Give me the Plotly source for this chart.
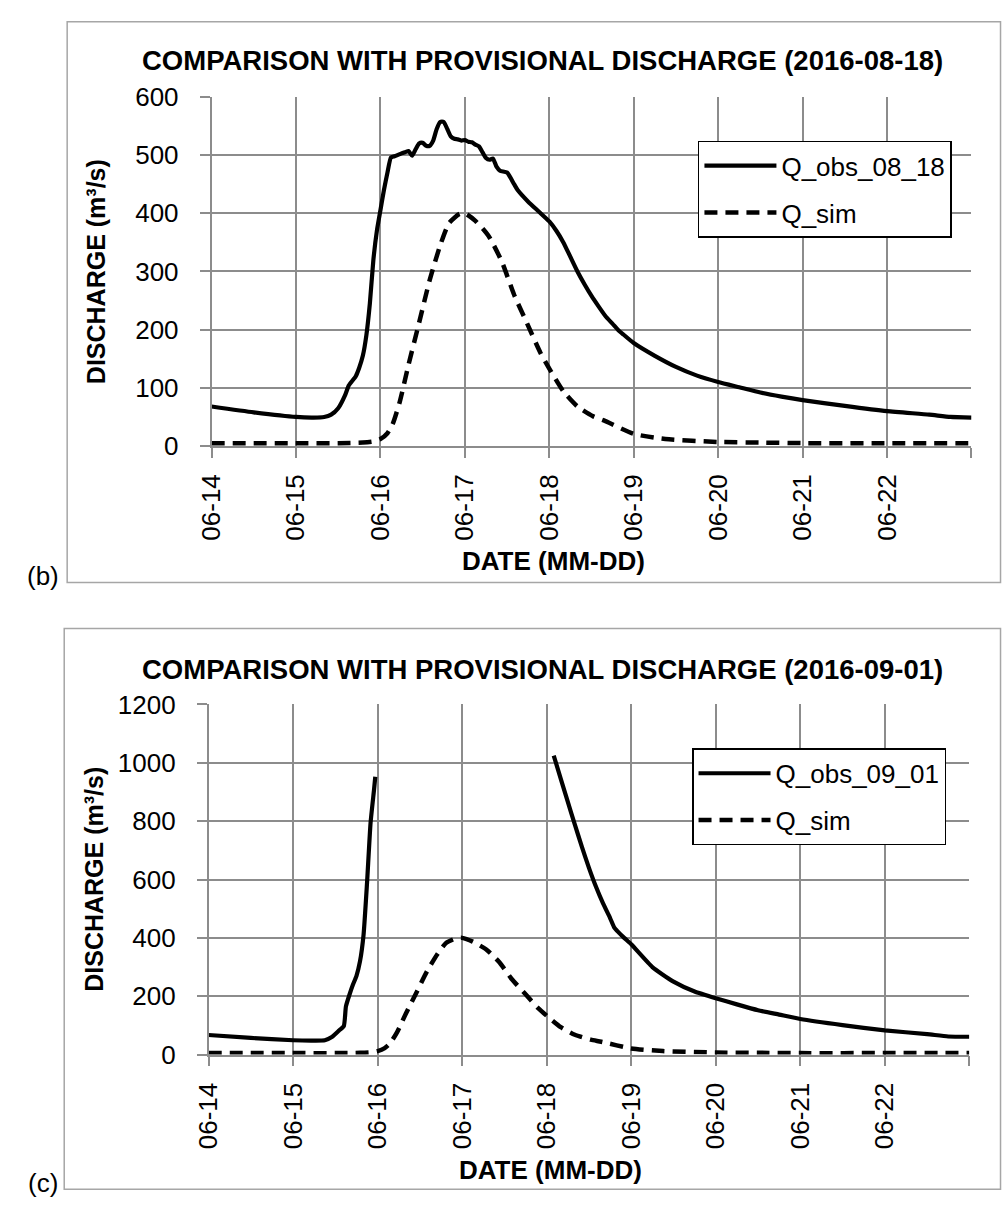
import plotly.graph_objects as go

# ---------------- data ----------------
tick_dates = ["2016-06-14", "2016-06-15", "2016-06-16", "2016-06-17", "2016-06-18",
              "2016-06-19", "2016-06-20", "2016-06-21", "2016-06-22", "2016-06-23"]
tick_labels = ["06-14", "06-15", "06-16", "06-17", "06-18", "06-19", "06-20", "06-21", "06-22", ""]

obs_b_time = ["2016-06-14 00:00", "2016-06-14 12:00", "2016-06-15 00:00", "2016-06-15 05:00", "2016-06-15 08:00",
              "2016-06-15 10:00", "2016-06-15 12:00", "2016-06-15 14:00", "2016-06-15 15:00", "2016-06-15 17:00",
              "2016-06-15 18:00", "2016-06-15 19:00", "2016-06-15 20:00", "2016-06-15 21:00", "2016-06-15 22:00",
              "2016-06-15 23:00", "2016-06-16 00:00", "2016-06-16 01:00", "2016-06-16 02:00", "2016-06-16 03:00",
              "2016-06-16 04:00", "2016-06-16 06:00", "2016-06-16 07:00", "2016-06-16 08:00", "2016-06-16 09:00",
              "2016-06-16 10:00", "2016-06-16 11:00", "2016-06-16 12:00", "2016-06-16 13:00", "2016-06-16 14:00",
              "2016-06-16 15:00", "2016-06-16 16:00", "2016-06-16 17:00", "2016-06-16 18:00", "2016-06-16 19:00",
              "2016-06-16 20:00", "2016-06-16 21:00", "2016-06-16 22:00", "2016-06-16 23:00", "2016-06-17 00:00",
              "2016-06-17 01:00", "2016-06-17 02:00", "2016-06-17 03:00", "2016-06-17 04:00", "2016-06-17 05:00",
              "2016-06-17 06:00", "2016-06-17 07:00", "2016-06-17 08:00", "2016-06-17 09:00", "2016-06-17 10:00",
              "2016-06-17 12:00", "2016-06-17 14:00", "2016-06-17 15:00", "2016-06-17 18:00", "2016-06-17 21:00",
              "2016-06-18 00:00", "2016-06-18 02:00", "2016-06-18 04:00", "2016-06-18 06:00", "2016-06-18 08:00",
              "2016-06-18 10:00", "2016-06-18 12:00", "2016-06-18 14:00", "2016-06-18 16:00", "2016-06-18 18:00",
              "2016-06-18 19:30", "2016-06-18 21:00", "2016-06-19 00:00", "2016-06-19 06:00", "2016-06-19 12:00",
              "2016-06-19 18:00", "2016-06-20 00:00", "2016-06-20 06:00", "2016-06-20 12:00", "2016-06-20 18:00",
              "2016-06-21 00:00", "2016-06-21 12:00", "2016-06-22 00:00", "2016-06-22 12:00", "2016-06-22 18:00",
              "2016-06-23 00:00"]
obs_b_val = [68, 58, 50, 49, 50, 54, 65, 88, 104, 120,
             135, 155, 190, 245, 320, 370, 405, 440, 470, 496,
             498, 503, 505, 507, 499, 510, 520, 521, 516, 516,
             525, 545, 557, 557, 545, 532, 528, 527, 525, 526,
             523, 522, 518, 515, 505, 495, 492, 494, 480, 473,
             470, 450, 440, 420, 403, 386, 370, 350, 325, 300,
             278, 258, 240, 223, 210, 200, 192, 177, 155, 136,
             121, 110, 101, 92, 85, 79, 69, 60, 54, 50,
             49]

sim_time = ["2016-06-14 00:00", "2016-06-15 00:00", "2016-06-15 12:00", "2016-06-15 19:00", "2016-06-15 22:00",
            "2016-06-16 00:00", "2016-06-16 02:00", "2016-06-16 03:30", "2016-06-16 05:30", "2016-06-16 08:00",
            "2016-06-16 11:00", "2016-06-16 14:00", "2016-06-16 17:00", "2016-06-16 19:30", "2016-06-16 22:30",
            "2016-06-17 00:00", "2016-06-17 03:00", "2016-06-17 06:45", "2016-06-17 10:30", "2016-06-17 14:00",
            "2016-06-17 17:45", "2016-06-17 21:30", "2016-06-18 00:30", "2016-06-18 04:00", "2016-06-18 08:00",
            "2016-06-18 12:30", "2016-06-18 15:30", "2016-06-19 00:00", "2016-06-19 09:00", "2016-06-20 00:00",
            "2016-06-20 12:00", "2016-06-21 00:00", "2016-06-22 00:00", "2016-06-23 00:00"]
sim_val = [5, 5, 5, 6, 8, 12, 22, 38, 76, 140,
           212, 285, 345, 383, 399, 400, 387, 361, 317, 260,
           210, 160, 128, 94, 68, 51, 44, 21, 12, 7,
           6, 5, 5, 5]

obs_c_time = ["2016-06-14 00:00", "2016-06-14 12:00", "2016-06-15 00:00", "2016-06-15 06:00", "2016-06-15 09:00",
              "2016-06-15 11:00", "2016-06-15 13:00", "2016-06-15 14:24", "2016-06-15 15:00", "2016-06-15 16:00",
              "2016-06-15 17:00", "2016-06-15 18:00", "2016-06-15 19:00", "2016-06-15 20:00", "2016-06-15 21:00",
              "2016-06-15 22:00", "2016-06-15 23:00", "2016-06-15 23:20", "2016-06-17 00:00", "2016-06-18 02:00",
              "2016-06-18 04:00", "2016-06-18 06:00", "2016-06-18 08:00", "2016-06-18 10:00", "2016-06-18 12:00",
              "2016-06-18 14:00", "2016-06-18 16:00", "2016-06-18 18:00", "2016-06-18 19:12", "2016-06-18 20:00",
              "2016-06-18 22:00", "2016-06-19 00:00", "2016-06-19 06:00", "2016-06-19 12:00", "2016-06-19 18:00",
              "2016-06-20 00:00", "2016-06-20 06:00", "2016-06-20 12:00", "2016-06-20 18:00", "2016-06-21 00:00",
              "2016-06-21 12:00", "2016-06-22 00:00", "2016-06-22 12:00", "2016-06-22 18:00", "2016-06-23 00:00"]
obs_c_val = [67, 57, 49, 48, 49, 60, 82, 98, 165, 205,
             240, 270, 320, 410, 590, 795, 910, 952, None, 1025,
             945, 866, 788, 712, 640, 575, 518, 468, 435, 424,
             400, 378, 300, 250, 216, 193, 172, 152, 137, 122,
             101, 83, 70, 62, 61]

# ---------------- figure ----------------
W, H = 1002, 1210
FONT = "Liberation Sans, Arial, sans-serif"
GRID = "#8c8c8c"


def px_x(p):
    return p / W


def px_y(p):
    return 1 - p / H


fig = go.Figure()

solid = dict(color="black", width=4.2)
dashed = dict(color="black", width=4.5, dash="13px,8px")

fig.add_trace(go.Scatter(x=obs_b_time, y=obs_b_val, mode="lines", name="Q_obs_08_18",
                         line=dict(**solid, shape="spline", smoothing=0.5),
                         xaxis="x", yaxis="y", legend="legend", legendgroup="a"))
fig.add_trace(go.Scatter(x=sim_time, y=sim_val, mode="lines", name="Q_sim",
                         line=dict(**dashed, shape="spline", smoothing=0.6),
                         xaxis="x", yaxis="y", legend="legend", legendgroup="b"))
fig.add_trace(go.Scatter(x=obs_c_time, y=obs_c_val, mode="lines", name="Q_obs_09_01",
                         line=dict(**solid, shape="spline", smoothing=0.5), connectgaps=False,
                         xaxis="x2", yaxis="y2", legend="legend2", legendgroup="c"))
fig.add_trace(go.Scatter(x=sim_time, y=sim_val, mode="lines", name="Q_sim",
                         line=dict(**dashed, shape="spline", smoothing=0.6),
                         xaxis="x2", yaxis="y2", legend="legend2", legendgroup="d"))

xcommon = dict(type="date", range=["2016-06-14", "2016-06-23"], tickvals=tick_dates, ticktext=tick_labels,
               tickangle=-90, showgrid=True, gridcolor=GRID, gridwidth=1.5, ticks="outside", ticklen=10,
               tickwidth=1.5, tickcolor=GRID, showline=True, linecolor=GRID, linewidth=1.5, zeroline=False,
               tickfont=dict(family=FONT, size=26, color="black"), ticklabelstandoff=6, fixedrange=True)
ycommon = dict(showgrid=True, gridcolor=GRID, gridwidth=1.5, ticks="outside", ticklen=10, tickwidth=1.5,
               tickcolor=GRID, showline=True, linecolor=GRID, linewidth=1.5, zeroline=False,
               tickfont=dict(family=FONT, size=26, color="black"), ticklabelstandoff=16, fixedrange=True)

fig.update_layout(
    width=W, height=H, autosize=False,
    margin=dict(l=0, r=0, t=0, b=0),
    paper_bgcolor="white", plot_bgcolor="white",
    font=dict(family=FONT, color="black"),
    xaxis=dict(domain=[px_x(198.7), px_x(971.0)], anchor="y", **xcommon),
    yaxis=dict(domain=[px_y(442), px_y(84)], anchor="x", range=[0, 600], dtick=100, **ycommon),
    xaxis2=dict(domain=[px_x(195.7), px_x(968.8)], anchor="y2", **xcommon),
    yaxis2=dict(domain=[px_y(1066), px_y(707)], anchor="x2", range=[0, 1200], dtick=200, **ycommon),
    legend=dict(x=px_x(693), y=px_y(129), xanchor="left", yanchor="top", bgcolor="white",
                bordercolor="black", borderwidth=1.5, font=dict(family=FONT, size=26, color="black"),
                itemwidth=72, tracegroupgap=10),
    legend2=dict(x=px_x(687), y=px_y(752), xanchor="left", yanchor="top", bgcolor="white",
                 bordercolor="black", borderwidth=1.5, font=dict(family=FONT, size=26, color="black"),
                 itemwidth=72, tracegroupgap=10),
    showlegend=True,
)

annotations = [
    dict(text="<b>COMPARISON WITH PROVISIONAL DISCHARGE (2016-08-18)</b>", x=px_x(535), y=px_y(47), font_size=27.5),
    dict(text="<b>COMPARISON WITH PROVISIONAL DISCHARGE (2016-09-01)</b>", x=px_x(535), y=px_y(671), font_size=27.5),
    dict(text="<b>DISCHARGE (m³/s)</b>", x=px_x(82), y=px_y(263), textangle=-90, font_size=25),
    dict(text="<b>DISCHARGE (m³/s)</b>", x=px_x(79), y=px_y(886), textangle=-90, font_size=25),
    dict(text="<b>DATE (MM-DD)</b>", x=px_x(546), y=px_y(560), font_size=26),
    dict(text="<b>DATE (MM-DD)</b>", x=px_x(543), y=px_y(1184), font_size=26),
    dict(text="(b)", x=px_x(27), y=px_y(575), font_size=26),
    dict(text="(c)", x=px_x(27), y=px_y(1198), font_size=26),
]
for a in annotations:
    fs = a.pop("font_size")
    fig.add_annotation(xref="paper", yref="paper", xanchor="center", yanchor="middle", showarrow=False,
                       font=dict(family=FONT, size=fs, color="black"), **a)

fig.add_shape(type="rect", xref="paper", yref="paper", x0=px_x(52), x1=px_x(1000.5), y0=px_y(582), y1=px_y(7),
              line=dict(color="#a6a6a6", width=1.5), layer="below")
fig.add_shape(type="rect", xref="paper", yref="paper", x0=px_x(49), x1=px_x(1000.5), y0=px_y(1204), y1=px_y(629),
              line=dict(color="#a6a6a6", width=1.5), layer="below")

fig.write_html("out.html", config={"displayModeBar": False},
               post_script="document.body.style.margin='0px';document.body.style.padding='0px';")
